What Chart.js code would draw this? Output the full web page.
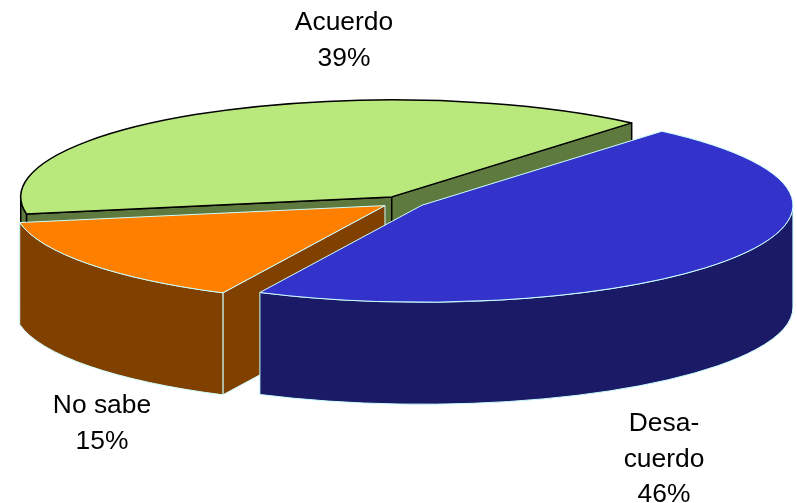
<!DOCTYPE html>
<html>
<head>
<meta charset="utf-8">
<style>html,body{margin:0;padding:0;background:#fff;overflow:hidden}canvas{display:block}</style>
<script src="https://cdn.jsdelivr.net/npm/chart.js@4"></script>
</head>
<body>
<canvas id="c" width="797" height="503"></canvas>
<script>
const categories = ['Desa-\ncuerdo', 'No sabe', 'Acuerdo'];
const values = [46, 15, 39];
const topColors = ['#3333CC', '#FF8000', '#B9E97C'];
const wallColors = ['#1A1A66', '#804000', '#5F7A3F'];
const edgeColors = ['#CCFFFF', '#CCFFFF', '#000000'];
const edgeWidths = [1, 1, 1.5];
const paintOrder = [2, 1, 0];
const labelCenters = [[664, 424], [102, 406], [344, 23]];

const TILT = 97 / 371, DEPTH = 102, EXPLODE = 22.6, LINE = 35.5;

const pie3d = {
  id: 'pie3d',
  beforeDatasetDraw(chart, args) {
    const ctx = chart.ctx;
    const arcs = args.meta.data;
    paintOrder.forEach(i => {
      const a = arcs[i];
      const mid = (a.startAngle + a.endAngle) / 2;
      const cx = a.x + Math.cos(mid) * EXPLODE;
      const cy = a.y + Math.sin(mid) * EXPLODE * TILT;
      const rx = a.outerRadius, ry = rx * TILT;
      const px = t => cx + Math.cos(t) * rx;
      const py = t => cy + Math.sin(t) * ry;
      const s = a.startAngle, e = a.endAngle;
      ctx.save();
      ctx.lineJoin = 'round';
      ctx.fillStyle = wallColors[i];
      ctx.strokeStyle = edgeColors[i];
      ctx.lineWidth = edgeWidths[i];

      // cut faces that look toward the viewer
      const drawCut = t => {
        ctx.beginPath();
        ctx.moveTo(cx, cy);
        ctx.lineTo(px(t), py(t));
        ctx.lineTo(px(t), py(t) + DEPTH);
        ctx.lineTo(cx, cy + DEPTH);
        ctx.closePath();
        ctx.fill();
        ctx.stroke();
      };
      if (Math.cos(s) < 0) drawCut(s);
      if (Math.cos(e) > 0) drawCut(e);

      // outer wall, front half of the rim only
      const from = Math.max(s, 0), to = Math.min(e, Math.PI);
      if (from < to) {
        ctx.beginPath();
        ctx.ellipse(cx, cy, rx, ry, 0, from, to);
        ctx.ellipse(cx, cy + DEPTH, rx, ry, 0, to, from, true);
        ctx.closePath();
        ctx.fill();
        ctx.stroke();
      }

      // top face
      ctx.fillStyle = topColors[i];
      ctx.beginPath();
      ctx.moveTo(cx, cy);
      ctx.ellipse(cx, cy, rx, ry, 0, s, e);
      ctx.closePath();
      ctx.fill();
      ctx.stroke();
      ctx.restore();
    });
    return false;
  },
  afterDraw(chart) {
    const ctx = chart.ctx;
    ctx.save();
    ctx.fillStyle = '#000';
    ctx.font = '26.4px "Liberation Sans", Arial, sans-serif';
    ctx.textAlign = 'center';
    ctx.textBaseline = 'middle';
    categories.forEach((name, i) => {
      const lines = name.split('\n').concat(values[i] + '%');
      const [x, y] = labelCenters[i];
      lines.forEach((t, k) => ctx.fillText(t, x, y + k * LINE));
    });
    ctx.restore();
  }
};

new Chart(document.getElementById('c'), {
  type: 'pie',
  data: {
    labels: categories,
    datasets: [{ data: values, backgroundColor: topColors, borderColor: edgeColors, borderWidth: 1 }]
  },
  options: {
    responsive: false,
    animation: false,
    events: [],
    rotation: 40.3,
    radius: 371,
    layout: { padding: { left: 9, bottom: 99 } },
    plugins: { legend: { display: false }, tooltip: { enabled: false } }
  },
  plugins: [pie3d]
});
</script>
</body>
</html>
